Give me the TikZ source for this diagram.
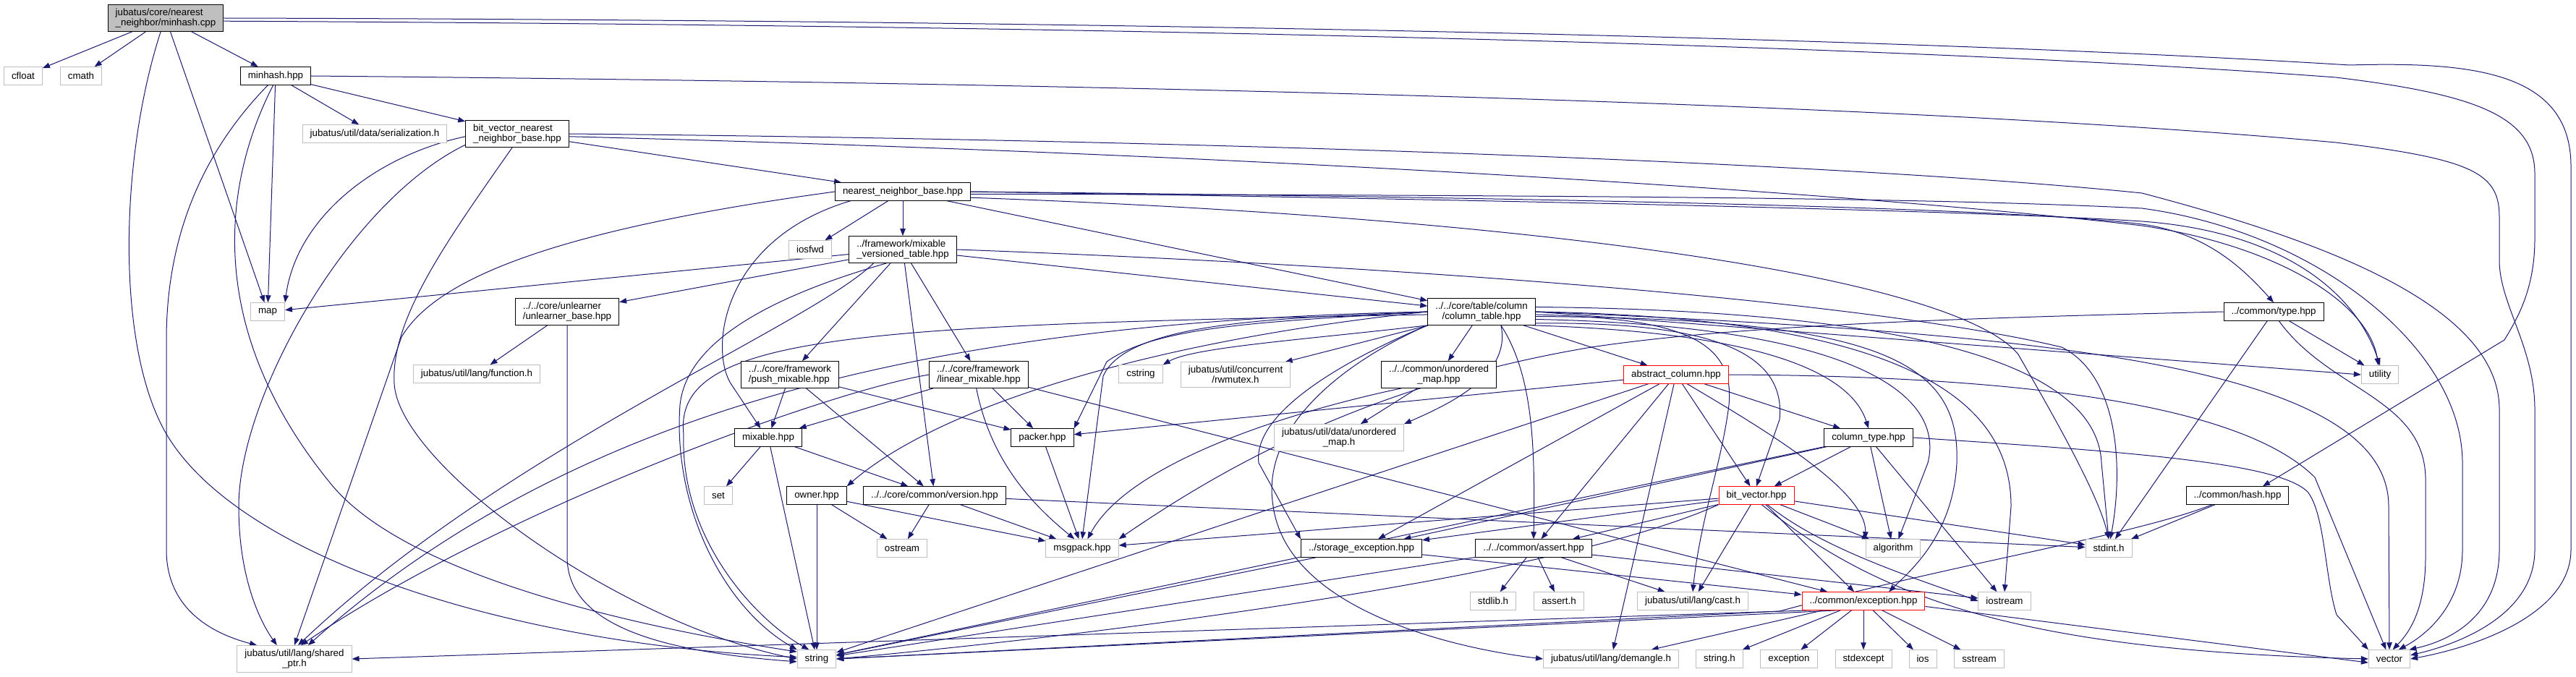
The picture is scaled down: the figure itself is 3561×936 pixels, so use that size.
\documentclass[tikz,border=0pt]{standalone}
\usepackage{fontspec}
\newfontfamily\dotfont{Liberation Sans}
\usetikzlibrary{arrows.meta}
\definecolor{edgeblue}{RGB}{25,25,112}
\definecolor{sysgray}{RGB}{191,191,191}
\pgfdeclarelayer{bg}
\pgfsetlayers{bg,main}

\begin{document}
\begin{tikzpicture}[
    x=1pt, y=-1pt,
    file/.style={rectangle, draw=black, fill=white, line width=1pt,
        font=\dotfont\fontsize{13.33pt}{14.3pt}\selectfont,
        inner xsep=10.5pt, inner ysep=5pt, minimum height=24.5pt},
    sysfile/.style={file, draw=sysgray},
    trunc/.style={file, draw=red},
    dep/.style={draw=edgeblue, line width=1pt, -{Triangle[length=10pt,width=7.5pt]}}
]
\useasboundingbox (0,0) rectangle (3561,936);

\node[file, fill=sysgray, align=left] (root) at (229,25) {jubatus/core/nearest\\\_neighbor/minhash.cpp};
\node[sysfile] (cfloat) at (32,105) {cfloat};
\node[sysfile] (cmath) at (112,105) {cmath};
\node[file] (minhash) at (381,105) {minhash.hpp};
\node[sysfile] (serial) at (518,185) {jubatus/util/data/serialization.h};
\node[file, align=left] (bvnnb) at (715,185) {bit\_vector\_nearest\\\_neighbor\_base.hpp};
\node[file] (nnb) at (1248,265) {nearest\_neighbor\_base.hpp};
\node[sysfile] (iosfwd) at (1120,345) {iosfwd};
\node[file, align=left] (mvt) at (1248,345) {../framework/mixable\\\_versioned\_table.hpp};
\node[sysfile] (map) at (370,431) {map};
\node[file, align=left] (unlearner) at (784,431) {../../core/unlearner\\/unlearner\_base.hpp};
\node[file, align=center] (coltable) at (2048,431) {../../core/table/column\\/column\_table.hpp};
\node[file] (type) at (3143,431) {../common/type.hpp};
\node[sysfile] (function) at (659,517) {jubatus/util/lang/function.h};
\node[file, align=left] (push) at (1092,518) {../../core/framework\\/push\_mixable.hpp};
\node[file, align=left] (linear) at (1353,518) {../../core/framework\\/linear\_mixable.hpp};
\node[sysfile] (cstring) at (1577,517) {cstring};
\node[sysfile, align=center] (rwmutex) at (1708,518) {jubatus/util/concurrent\\/rwmutex.h};
\node[file, align=center] (umaphpp) at (1989,518) {../../common/unordered\\\_map.hpp};
\node[trunc] (abscol) at (2317,518) {abstract\_column.hpp};
\node[sysfile] (utility) at (3290,518) {utility};
\node[file] (mixable) at (1062,605) {mixable.hpp};
\node[file] (packer) at (1441,605) {packer.hpp};
\node[sysfile, align=center] (umaph) at (1851,605) {jubatus/util/data/unordered\\\_map.h};
\node[file] (coltype) at (2583,605) {column\_type.hpp};
\node[sysfile] (set) at (993,685) {set};
\node[file] (owner) at (1129,685) {owner.hpp};
\node[file] (version) at (1292,685) {../../core/common/version.hpp};
\node[trunc] (bitvec) at (2428,685) {bit\_vector.hpp};
\node[file] (hash) at (3093,685) {../common/hash.hpp};
\node[sysfile] (ostream) at (1247,758) {ostream};
\node[sysfile] (msgpack) at (1496,758) {msgpack.hpp};
\node[file] (storexc) at (1882,758) {../storage\_exception.hpp};
\node[file] (assert) at (2120,758) {../../common/assert.hpp};
\node[sysfile] (algorithm) at (2617,758) {algorithm};
\node[sysfile] (stdinth) at (2915,758) {stdint.h};
\node[sysfile] (stdlibh) at (2064,831) {stdlib.h};
\node[sysfile] (asserth) at (2155,831) {assert.h};
\node[sysfile] (casth) at (2340,831) {jubatus/util/lang/cast.h};
\node[trunc] (exchpp) at (2576,831) {../common/exception.hpp};
\node[sysfile] (iostream) at (2771,831) {iostream};
\node[sysfile, align=center] (sharedptr) at (407,911) {jubatus/util/lang/shared\\\_ptr.h};
\node[sysfile] (string) at (1129,911) {string};
\node[sysfile] (demangle) at (2227,911) {jubatus/util/lang/demangle.h};
\node[sysfile] (stringh) at (2377,911) {string.h};
\node[sysfile] (exception) at (2473,911) {exception};
\node[sysfile] (stdexcept) at (2576,911) {stdexcept};
\node[sysfile] (ios) at (2658,911) {ios};
\node[sysfile] (sstream) at (2736,911) {sstream};
\node[sysfile] (vector) at (3303,911) {vector};

\begin{pgfonlayer}{bg}
% minhash.cpp
\draw[dep] (root) -- (cfloat);
\draw[dep] (root) -- (cmath);
\draw[dep] (root) -- (minhash);
\draw[dep] (root) -- (map);
\draw[dep] (root.250) .. controls (165,220) and (160,480) .. (230,600) .. controls (330,770) and (700,890) .. (string.175);
\draw[dep] (root.east) .. controls (1500,28) and (2600,50) .. (3248,90) .. controls (3420,85) and (3554,100) .. (3554,230) -- (3554,760) .. controls (3554,850) and (3420,895) .. (vector.east);
\draw[dep] (root.-3) .. controls (1500,35) and (2600,60) .. (3229,107) .. controls (3420,130) and (3504,160) .. (3504,240) -- (3504,330) .. controls (3504,400) and (3480,440) .. (3462,470) -- (hash.20);

% minhash.hpp
\draw[dep] (minhash) -- (serial);
\draw[dep] (minhash) -- (bvnnb);
\draw[dep] (minhash) -- (map);
\draw[dep] (minhash.230) .. controls (300,190) and (230,300) .. (230,470) -- (230,760) .. controls (230,840) and (290,875) .. (sharedptr.160);
\draw[dep] (minhash.255) .. controls (310,250) and (280,450) .. (455,666) .. controls (560,800) and (900,870) .. (string.160);
\draw[dep] (minhash.east) .. controls (1500,115) and (2600,140) .. (3229,197) .. controls (3420,220) and (3455,240) .. (3455,300) -- (3455,360) .. controls (3455,420) and (3504,480) .. (3504,566) -- (3504,760) .. controls (3504,850) and (3400,890) .. (vector.10);

% bit_vector_nearest_neighbor_base.hpp
\draw[dep] (bvnnb) -- (nnb);
\draw[dep] (bvnnb.183) .. controls (520,215) and (410,300) .. (map.north east);
\draw[dep] (bvnnb.192) .. controls (480,280) and (330,550) .. (330,700) .. controls (330,800) and (360,860) .. (sharedptr.142);
\draw[dep] (bvnnb.250) .. controls (620,330) and (540,440) .. (545,530) .. controls (550,640) and (850,860) .. (string.west);
\draw[dep] (bvnnb.east) .. controls (1800,195) and (2600,230) .. (2961,267) .. controls (3200,330) and (3455,420) .. (3455,566) -- (3455,760) .. controls (3455,850) and (3390,885) .. (vector.25);
\draw[dep] (bvnnb.-3) .. controls (1800,215) and (2600,270) .. (2961,312) .. controls (3150,340) and (3275,420) .. (utility.100);

% nearest_neighbor_base.hpp
\draw[dep] (nnb) -- (iosfwd);
\draw[dep] (nnb) -- (mvt);
\draw[dep] (nnb) -- (coltable);
\draw[dep] (nnb.east) .. controls (2300,275) and (2800,290) .. (2961,310) .. controls (3049,322) and (3100,370) .. (type.north);
\draw[dep] (nnb.east) .. controls (2300,280) and (2800,295) .. (2961,306) .. controls (3150,320) and (3255,400) .. (utility.north);
\draw[dep] (nnb.-2) .. controls (2300,270) and (2700,275) .. (2961,288) .. controls (3200,320) and (3404,480) .. (3404,640) -- (3404,760) .. controls (3404,840) and (3350,880) .. (vector.45);
\draw[dep] (nnb.-5) .. controls (2100,300) and (2700,380) .. (2790,490) .. controls (2830,560) and (2900,680) .. (stdinth.north);
\draw[dep] (nnb.west) .. controls (750,320) and (600,390) .. (555,466) -- (sharedptr.north);
\draw[dep] (nnb.190) .. controls (1000,330) and (980,480) .. (1010,530) -- (mixable.130);

% mixable_versioned_table.hpp
\draw[dep] (mvt) -- (unlearner);
\draw[dep] (mvt.185) -- (map);
\draw[dep] (mvt) -- (coltable);
\draw[dep] (mvt) -- (push);
\draw[dep] (mvt) -- (linear);
\draw[dep] (mvt) -- (version);
\draw[dep] (mvt.220) .. controls (1100,400) and (950,460) .. (940,560) .. controls (930,700) and (1000,840) .. (string.north west);
\draw[dep] (mvt.205) .. controls (1120,450) and (700,620) .. (sharedptr.75);
\draw[dep] (mvt.east) .. controls (2000,370) and (2600,420) .. (2850,480) .. controls (2930,520) and (2935,650) .. (stdinth.80);

% unlearner, framework
\draw[dep] (unlearner) -- (function);
\draw[dep] (unlearner.south) -- (784,770) .. controls (784,860) and (900,900) .. (string.188);
\draw[dep] (push) -- (mixable);
\draw[dep] (push) -- (version);
\draw[dep] (push) -- (packer);
\draw[dep] (linear) -- (mixable);
\draw[dep] (linear) -- (packer);
\draw[dep] (linear.-100) .. controls (1370,640) and (1430,700) .. (msgpack.130);
\draw[dep] (linear.west) .. controls (1150,540) and (700,700) .. (sharedptr.65);
\draw[dep] (linear) -- (exchpp);
\draw[dep] (mixable) -- (set);
\draw[dep] (mixable) -- (string);
\draw[dep] (mixable) -- (version);
\draw[dep] (owner) -- (string);
\draw[dep] (owner) -- (ostream);
\draw[dep] (owner) -- (msgpack);
\draw[dep] (version) -- (ostream);
\draw[dep] (version) -- (msgpack);
\draw[dep] (version) -- (stdinth);
\draw[dep] (packer) -- (msgpack);

% column_table.hpp
\draw[dep] (coltable.south west) .. controls (1800,470) and (1650,480) .. (cstring.north east);
\draw[dep] (coltable) -- (rwmutex);
\draw[dep] (coltable) -- (umaphpp);
\draw[dep] (coltable.-35) .. controls (2090,520) and (2000,560) .. (umaph.north east);
\draw[dep] (coltable) -- (abscol);
\draw[dep] (coltable.-15) .. controls (2450,460) and (2560,520) .. (coltype.north);
\draw[dep] (coltable.-12) .. controls (2350,445) and (2470,480) .. (2460,580) -- (bitvec.north);
\draw[dep] (coltable.west) .. controls (1600,470) and (1300,560) .. (owner.north east);
\draw[dep] (coltable.west) .. controls (1750,445) and (1600,450) .. (1530,500) -- (packer.north east);
\draw[dep] (coltable.west) .. controls (1800,440) and (1560,440) .. (1525,520) -- (msgpack.north);
\draw[dep] (coltable.south west) .. controls (1900,480) and (1730,560) .. (1740,640) -- (storexc.north west);
\draw[dep] (coltable.-35) .. controls (2120,520) and (2122,620) .. (assert.north);
\draw[dep] (coltable.-8) .. controls (2550,450) and (2690,540) .. (2665,640) -- (algorithm.60);
\draw[dep] (coltable.east) .. controls (2650,440) and (2780,560) .. (2780,700) -- (iostream.north);
\draw[dep] (coltable.-3) .. controls (2300,440) and (2400,460) .. (2390,560) .. controls (2380,640) and (2350,720) .. (casth.north);
\draw[dep] (coltable.-5) .. controls (2600,440) and (2710,500) .. (2705,640) .. controls (2700,740) and (2640,790) .. (exchpp.20);
\draw[dep] (coltable.south west) .. controls (1880,490) and (1740,580) .. (1760,700) .. controls (1780,840) and (2000,895) .. (demangle.west);
\draw[dep] (coltable.east) -- (utility.west);
\draw[dep] (coltable.east) .. controls (2800,460) and (3302,500) .. (3302,700) -- (vector.north);
\draw[dep] (coltable.5) .. controls (2700,430) and (2900,520) .. (2905,640) -- (stdinth.north);
\draw[dep] (coltable.west) .. controls (1300,445) and (800,560) .. (sharedptr.45);
\draw[dep] (coltable.183) .. controls (1200,450) and (930,460) .. (945,600) .. controls (940,750) and (1050,860) .. (string.130);

% unordered_map.hpp, abstract_column.hpp
\draw[dep] (umaphpp) -- (umaph);
\draw[dep] (umaphpp.200) .. controls (1780,570) and (1560,640) .. (msgpack.60);
\draw[dep] (abscol) -- (packer);
\draw[dep] (abscol) -- (coltype);
\draw[dep] (abscol) -- (bitvec);
\draw[dep] (abscol) -- (storexc);
\draw[dep] (abscol) -- (assert);
\draw[dep] (abscol) -- (demangle);
\draw[dep] (abscol.-40) .. controls (2450,600) and (2580,680) .. (algorithm.north west);
\draw[dep] (abscol) -- (string);
\draw[dep] (abscol.east) .. controls (2800,520) and (3100,560) .. (3200,660) -- (vector.110);

% column_type.hpp, bit_vector.hpp
\draw[dep] (coltype) -- (bitvec);
\draw[dep] (coltype) -- (algorithm);
\draw[dep] (coltype) -- (iostream);
\draw[dep] (coltype) -- (storexc);
\draw[dep] (coltype) -- (string);
\draw[dep] (coltype.east) .. controls (2950,625) and (3150,640) .. (3190,680) .. controls (3214,710) and (3214,800) .. (3230,850) -- (vector.north west);
\draw[dep] (bitvec) -- (storexc);
\draw[dep] (bitvec) -- (assert);
\draw[dep] (bitvec) -- (casth);
\draw[dep] (bitvec) -- (exchpp);
\draw[dep] (bitvec) -- (algorithm);
\draw[dep] (bitvec) -- (stdinth);
\draw[dep] (bitvec.-40) .. controls (2520,760) and (2650,800) .. (iostream.west);
\draw[dep] (bitvec) -- (msgpack);
\draw[dep] (bitvec.south west) .. controls (2150,800) and (1500,880) .. (string.east);
\draw[dep] (bitvec.-60) .. controls (2600,830) and (2800,900) .. (vector.west);

% exceptions, assert
\draw[dep] (storexc) -- (exchpp);
\draw[dep] (storexc) -- (string);
\draw[dep] (assert) -- (stdlibh);
\draw[dep] (assert) -- (asserth);
\draw[dep] (assert) -- (casth);
\draw[dep] (assert) -- (iostream);
\draw[dep] (assert) -- (string);
\draw[dep] (exchpp) -- (stringh);
\draw[dep] (exchpp) -- (exception);
\draw[dep] (exchpp) -- (stdexcept);
\draw[dep] (exchpp) -- (ios);
\draw[dep] (exchpp) -- (sstream);
\draw[dep] (exchpp) -- (demangle);
\draw[dep] (exchpp.-5) -- (vector.190);
\draw[dep] (exchpp.190) -- (sharedptr.east);
\draw[dep] (exchpp.200) -- (string.east);

% type.hpp, hash.hpp
\draw[dep] (type.west) .. controls (2700,440) and (2400,450) .. (2200,480) .. controls (1900,530) and (1700,640) .. (msgpack.north east);
\draw[dep] (type) -- (stdinth);
\draw[dep] (type) -- (utility);
\draw[dep] (type.-60) .. controls (3220,540) and (3350,550) .. (3353,660) -- (3353,770) .. controls (3353,850) and (3325,880) .. (vector.70);
\draw[dep] (hash) -- (stdinth);
\draw[dep] (hash.200) .. controls (2950,740) and (2700,780) .. (2460,845) -- (string.east);
\end{pgfonlayer}

\end{tikzpicture}
\end{document}
